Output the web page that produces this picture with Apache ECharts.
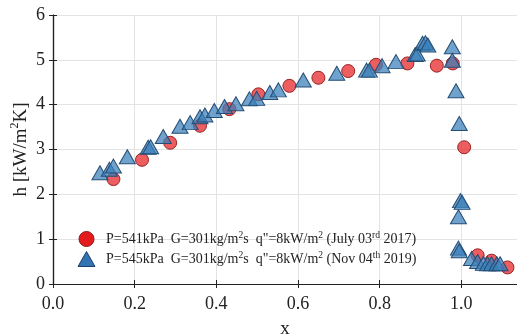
<!DOCTYPE html>
<html>
<head>
<meta charset="utf-8">
<script src="https://cdn.jsdelivr.net/npm/echarts@6/dist/echarts.min.js"></script>
<style>html,body{margin:0;padding:0;background:#fff}#c{width:517px;height:336px}</style>
</head>
<body>
<div id="c"></div>
<script>
// Series 1: P=541kPa (July 03rd 2017) — red circles
const circleX = [0.148,0.218,0.287,0.360,0.432,0.503,0.579,0.650,0.723,0.791,0.868,0.940,0.979,1.007,1.040,1.074,1.113];
const circleY = [2.34,2.77,3.15,3.53,3.90,4.23,4.42,4.60,4.75,4.89,4.92,4.87,4.92,3.05,0.64,0.52,0.37];
// Series 2: P=545kPa (Nov 04th 2019) — blue triangles
const triX = [0.115,0.138,0.148,0.182,0.233,0.239,0.270,0.311,0.336,0.360,0.372,0.395,0.420,0.448,0.481,0.499,0.531,0.552,0.613,0.695,0.768,0.775,0.806,0.840,0.887,0.892,0.905,0.912,0.918,0.978,0.978,0.987,0.995,0.998,1.002,0.993,0.993,0.995,1.025,1.040,1.054,1.064,1.074,1.087,1.095];
const triY = [2.48,2.56,2.63,2.84,3.05,3.06,3.29,3.52,3.60,3.73,3.77,3.87,3.96,4.02,4.13,4.14,4.27,4.33,4.55,4.70,4.77,4.77,4.87,4.96,5.12,5.13,5.37,5.38,5.33,5.29,4.99,4.31,3.58,1.86,1.82,1.50,0.80,0.74,0.57,0.50,0.46,0.45,0.45,0.45,0.45];
const xTicks = ['0.0','0.2','0.4','0.6','0.8','1.0'];
const yTicks = ['0','1','2','3','4','5','6'];
const legendNames = ['P=541kPa', 'P=545kPa'];
const legendLabels = [
  'P=541kPa  G=301kg/m{s|2}s  q"=8kW/m{s|2} (July 03{s|rd} 2017)',
  'P=545kPa  G=301kg/m{s|2}s  q"=8kW/m{s|2} (Nov 04{s|th} 2019)'
];

const FONT = 'Liberation Serif';
const zip = (a, b) => a.map((v, i) => [v, b[i]]);
const chart = echarts.init(document.getElementById('c'), null, {renderer: 'canvas'});
const xFmt = v => { const k = v / 0.2; return Math.abs(k - Math.round(k)) < 1e-6 ? xTicks[Math.round(k)] : ''; };
const yFmt = v => (Math.abs(v - Math.round(v)) < 1e-6 && yTicks[Math.round(v)] !== undefined) ? yTicks[Math.round(v)] : '';
const axisLine = {show: true, lineStyle: {color: '#222', width: 1.2}};
const tick = {show: true, inside: true, length: 4, lineStyle: {color: '#222', width: 1}};
const XMAX = 1.1364;

chart.setOption({
  animation: false,
  backgroundColor: '#fff',
  grid: {left: 53, right: 0, top: 15, bottom: 52, containLabel: false, outerBoundsMode: 'none'},
  xAxis: [{
    type: 'value', min: 0, max: XMAX, interval: 0.2, position: 'bottom',
    name: 'x', nameLocation: 'middle', nameGap: 36, nameMoveOverlap: false,
    nameTextStyle: {fontFamily: FONT, fontSize: 19, color: '#222'},
    axisLine, axisTick: tick,
    axisLabel: {formatter: xFmt, fontFamily: FONT, fontSize: 18, color: '#222', margin: 11, showMaxLabel: false},
    splitLine: {show: true, lineStyle: {color: '#e3e3e3', width: 1}}
  }, {
    type: 'value', min: 0, max: XMAX, interval: 0.2, position: 'top',
    axisLine, axisTick: tick, axisLabel: {show: false}, splitLine: {show: false}
  }],
  yAxis: [{
    type: 'value', min: 0, max: 6, interval: 1, position: 'left',
    name: 'h [kW/m{s|2}K]', nameLocation: 'middle', nameGap: 20, nameRotate: 90, nameMoveOverlap: false,
    nameTextStyle: {fontFamily: FONT, fontSize: 19, color: '#222', lineHeight: 24,
      rich: {s: {fontFamily: FONT, fontSize: 12, color: '#222', verticalAlign: 'top', lineHeight: 14}}},
    axisLine, axisTick: tick,
    axisLabel: {formatter: yFmt, fontFamily: FONT, fontSize: 18, color: '#222', margin: 8},
    splitLine: {show: true, lineStyle: {color: '#e3e3e3', width: 1}}
  }, {
    type: 'value', min: 0, max: 6, interval: 1, position: 'right',
    axisLine, axisTick: tick, axisLabel: {show: false}, splitLine: {show: false}
  }],
  legend: {
    orient: 'vertical', left: 77.5, top: 230, itemWidth: 17, itemHeight: 15, itemGap: 2,
    padding: 0,
    data: [
      {name: legendNames[0], icon: 'circle', itemStyle: {color: '#e41a1c', borderColor: '#8b1a1a', borderWidth: 1, opacity: 1}},
      {name: legendNames[1], icon: 'triangle', itemStyle: {color: '#3274b3', borderColor: '#1f3f66', borderWidth: 1, opacity: 1}}
    ],
    formatter: name => legendLabels[legendNames.indexOf(name)],
    textStyle: {fontFamily: FONT, fontSize: 14, color: '#222', padding: [0, 0, 0, 6], lineHeight: 18,
      rich: {s: {fontFamily: FONT, fontSize: 9.5, color: '#222', verticalAlign: 'top', lineHeight: 10}}}
  },
  series: [{
    name: legendNames[0], type: 'scatter', xAxisIndex: 0, yAxisIndex: 0,
    data: zip(circleX, circleY), symbol: 'circle', symbolSize: 13,
    itemStyle: {color: 'rgba(228,26,28,0.7)', borderColor: '#9a2224', borderWidth: 1, opacity: 1},
    z: 2
  }, {
    name: legendNames[1], type: 'scatter', xAxisIndex: 0, yAxisIndex: 0,
    data: zip(triX, triY), symbol: 'triangle', symbolSize: [16, 14],
    itemStyle: {color: 'rgba(55,126,184,0.72)', borderColor: '#264d75', borderWidth: 1, opacity: 1},
    z: 3
  }]
});
</script>
</body>
</html>
